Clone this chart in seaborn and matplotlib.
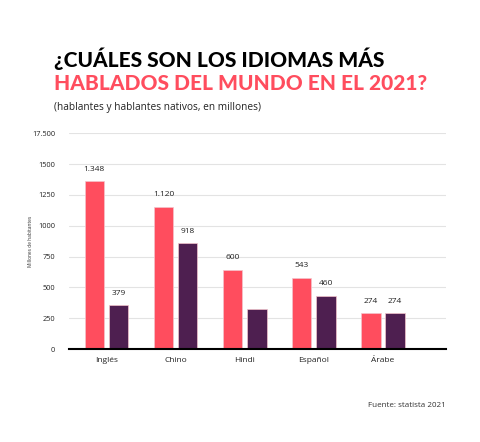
import numpy as np
import pandas as pd
import matplotlib.pyplot as plt
import seaborn as sns

idiomas = ["Inglés", "Chino", "Hindi", "Español", "Árabe"]
series = ["Hablantes", "Nativos"]
# bar heights as drawn in the picture
hablantes = [1360, 1155, 645, 578, 292]
nativos = [355, 861, 324, 433, 292]
# value labels as printed (Hindi native bar has none)
etiquetas_hablantes = ["1.348", "1.120", "600", "543", "274"]
etiquetas_nativos = ["379", "918", "", "460", "274"]
yticks = [0, 250, 500, 750, 1000, 1250, 1500, 1750]
ytick_labels = ["0", "250", "500", "750", "1000", "1250", "1500", "17.500"]

rosa = "#FF4D5E"
morado = "#4E1F50"

df = pd.DataFrame({
    "idioma": idiomas * 2,
    "serie": [series[0]] * 5 + [series[1]] * 5,
    "valor": hablantes + nativos,
})

sns.set_style("white")
plt.rcParams["font.family"] = ["Open Sans", "DejaVu Sans"]

fig = plt.figure(figsize=(4.8, 4.42), dpi=100)
ax = fig.add_axes([0.144, 0.2104, 0.785, 0.488])
sns.barplot(data=df, x="idioma", y="valor", hue="serie", order=idiomas,
            hue_order=series, palette=[rosa, morado], width=0.7, gap=0.2,
            legend=False, ax=ax, saturation=1, edgecolor="#f3c4cc", linewidth=0.5)

ax.set_xlim(-0.54, 4.91)
ax.set_ylim(0, 1750)
ax.set_yticks(yticks)
ax.set_yticklabels(ytick_labels, fontsize=5.3, color="#222222")
ax.yaxis.grid(True, color="#e3e3e3", linewidth=0.8)
ax.set_axisbelow(True)
ax.tick_params(axis="y", length=0, pad=10)
ax.tick_params(axis="x", length=0, pad=6, labelsize=6, labelcolor="#222222")
ax.set_xlabel("")
ax.set_ylabel("Millones de habitantes", fontsize=3.5, labelpad=-1, color="#333333")
for s in ["top", "right", "left"]:
    ax.spines[s].set_visible(False)
ax.spines["bottom"].set_color("black")
ax.spines["bottom"].set_linewidth(1.5)

for cont, labs in zip(ax.containers, [etiquetas_hablantes, etiquetas_nativos]):
    ax.bar_label(cont, labels=labs, padding=6, fontsize=6, color="#222222")

fig.text(0.112, 0.866, "¿CUÁLES SON LOS IDIOMAS MÁS", fontsize=15,
         fontweight="black", family="Lato", color="black", va="center")
fig.text(0.112, 0.812, "HABLADOS DEL MUNDO EN EL 2021?", fontsize=15,
         fontweight="black", family="Lato", color=rosa, va="center")
fig.text(0.112, 0.757, "(hablantes y hablantes nativos, en millones)", fontsize=7.3,
         color="#222222", va="center")
fig.text(0.929, 0.082, "Fuente: statista 2021", fontsize=5.8, color="#333333",
         ha="right", va="center")

fig.savefig("out.png", dpi=100)
